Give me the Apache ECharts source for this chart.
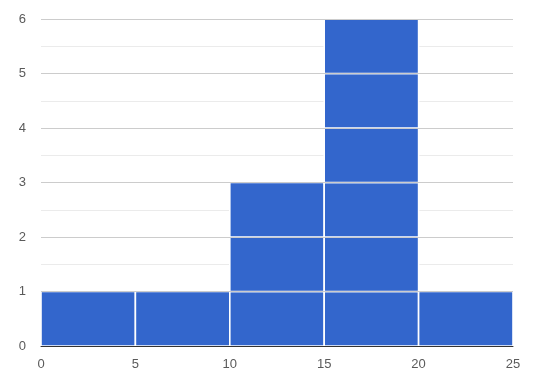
<!DOCTYPE html>
<html><head><meta charset="utf-8">
<script src="https://cdn.jsdelivr.net/npm/echarts@6/dist/echarts.min.js"></script>
<style>html,body{margin:0;padding:0;background:#fff}#c{width:535px;height:378px}</style>
</head><body><div id="c"></div>
<script>
const binStarts = [0, 5, 10, 15, 20];
const binEnds = [5, 10, 15, 20, 25];
const counts = [1, 1, 3, 6, 1];
const xTicks = [0, 5, 10, 15, 20, 25];
const yTicks = [0, 1, 2, 3, 4, 5, 6];

const data = binStarts.map((s, i) => [s, binEnds[i], counts[i]]);
const chart = echarts.init(document.getElementById('c'));
chart.setOption({
  animation: false,
  grid: { left: 41, right: 22, top: 19, bottom: 32 },
  xAxis: {
    type: 'value', min: xTicks[0], max: xTicks[xTicks.length - 1], interval: 5, z: 12,
    axisLine: { show: true, onZero: false, lineStyle: { color: '#333', width: 1 } },
    axisTick: { show: false }, splitLine: { show: false },
    axisLabel: { color: '#5a5a5a', fontSize: 13, fontFamily: 'Liberation Sans, Arial', margin: 12 }
  },
  yAxis: [{
    type: 'value', min: yTicks[0], max: yTicks[yTicks.length - 1], interval: 1,
    axisLine: { show: false }, axisTick: { show: false },
    axisLabel: { color: '#5a5a5a', fontSize: 13, fontFamily: 'Liberation Sans, Arial', margin: 15 },
    splitLine: { lineStyle: { color: '#ccc' } },
    minorTick: { show: false, splitNumber: 2 },
    minorSplitLine: { show: true, lineStyle: { color: '#ebebeb' } }
  }, {
    type: 'value', min: yTicks[0], max: yTicks[yTicks.length - 1], interval: 1, z: 10,
    position: 'left', axisLine: { show: false }, axisTick: { show: false }, axisLabel: { show: false },
    splitLine: { lineStyle: { color: '#cccccc' } }
  }],
  series: [{
    type: 'custom', yAxisIndex: 0, z: 2,
    data: data,
    renderItem: function (params, api) {
      const x0 = api.value(0), x1 = api.value(1), n = api.value(2);
      const children = [];
      for (let k = 0; k < n; k++) {
        const p0 = api.coord([x0, k + 1]);
        const p1 = api.coord([x1, k]);
        children.push({
          type: 'rect',
          shape: { x: p0[0], y: p0[1], width: p1[0] - p0[0], height: p1[1] - p0[1] },
          style: { fill: '#3366cc', stroke: '#ffffff', lineWidth: 1.6 }
        });
      }
      return { type: 'group', children: children };
    }
  }]
});
</script></body></html>
